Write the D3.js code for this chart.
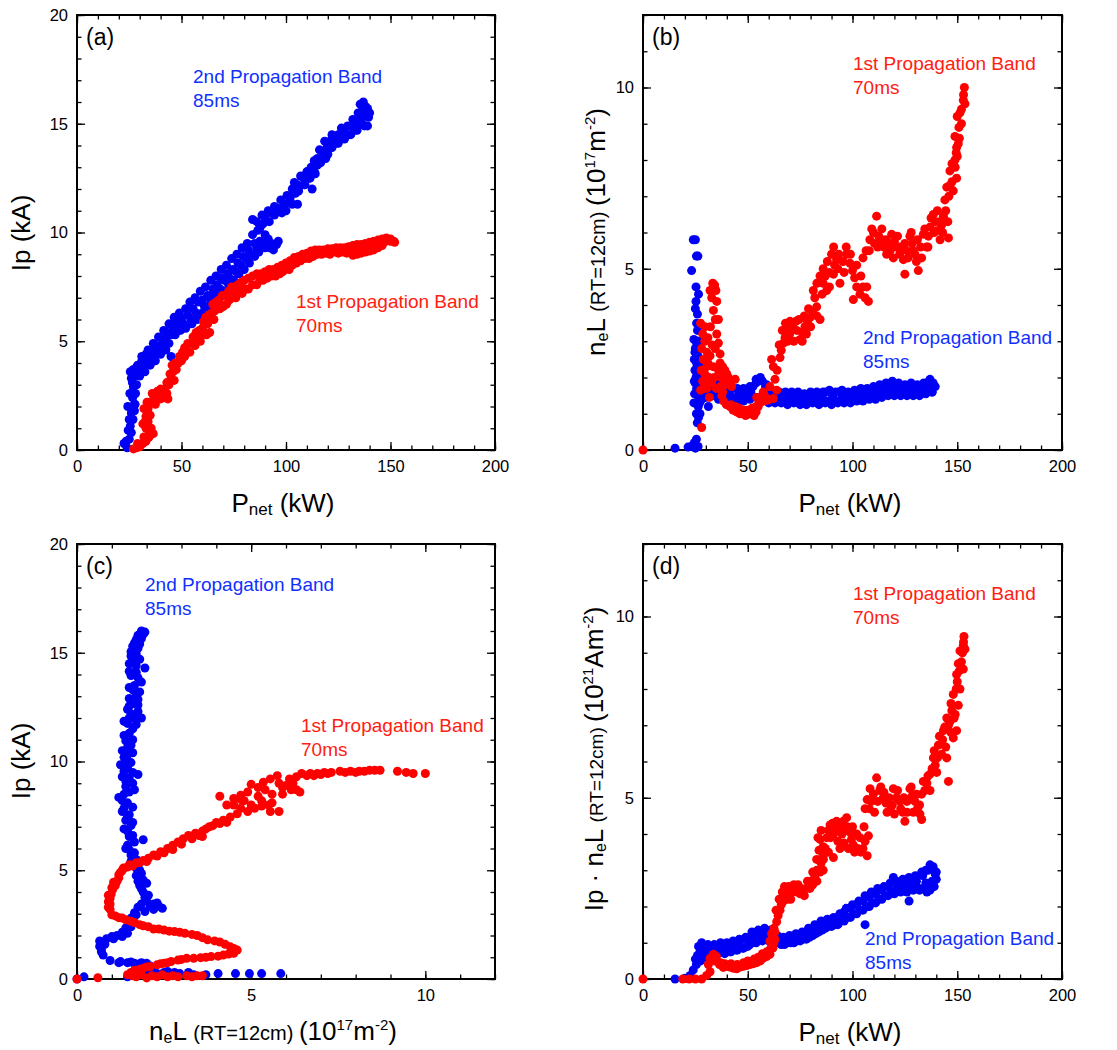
<!DOCTYPE html>
<html>
<head>
<meta charset="utf-8">
<script src="https://cdn.jsdelivr.net/npm/d3@7"></script>
<style>
  body { margin: 0; background: #fff; }
  svg { font-family: "Liberation Sans", Arial, Helvetica, sans-serif; }
  .tick text { font-size: 16.5px; fill: #000; }
  .tick line { stroke: #000; stroke-width: 1.3; }
</style>
</head>
<body>
<svg id="chart" width="1117" height="1050"></svg>
<script>
// ---- data: [x, y] ----
// (a) Ip (kA) vs Pnet (kW)
const aBlue = [[24,0.1],[22.5,0.3],[25,0.5],[26,0.8],[25.5,1.1],[26.8,1.4],[26,1.7],[27.5,1.8],[24.3,2.0],[27.8,2.1],[26.6,2.4],[28,2.6],[27,2.9],[28.5,3.0],[26,3.3],[27.5,3.4],[29,3.5],[30.5,3.7],[28.5,3.8],[32,3.9],[31,4.1],[34,4.1],[33,4.4],[36,4.3],[35.5,4.6],[38,4.5],[38,4.8],[40,4.8],[41,5.1],[42.5,5.0],[43,5.4],[45,5.3],[45,4.3],[46,5.6],[47,5.95],[48.5,5.7],[50,6.05],[51,5.8],[53,6.2],[54.5,6.0],[55.5,6.5],[57,6.3],[58,6.8],[58.5,6.2],[60,6.9],[61,6.6],[62.5,7.1],[64,6.9],[65,7.4],[66,7.2],[67,7.6],[68.5,7.4],[69,7.9],[70.5,7.8],[72,8.1],[73,7.9],[74.5,8.3],[76,8.2],[77,8.6],[78.5,8.5],[79.5,8.9],[81,8.8],[82,9.2],[83.5,9.0],[85,9.5],[86,9.3],[87.5,9.6],[89,9.5],[90,9.9],[91.5,9.7],[93,9.5],[96.3,9.6],[84,10.6],[86,10.5],[87.5,10.2],[88.5,10.8],[90,10.7],[91.5,11.0],[93,10.9],[94.5,11.2],[96,11.1],[97.5,11.5],[99,11.3],[100.5,11.7],[102,11.6],[105.5,11.3],[103,12.0],[104,12.3],[105.5,12.2],[107,12.6],[108.5,12.5],[110,12.8],[112.5,12.0],[112,13.0],[113.5,13.3],[115,13.1],[116,13.8],[117.5,13.7],[118.5,14.2],[120,13.6],[120.5,14.1],[122,14.5],[123.5,14.3],[125,14.5],[126.5,14.8],[128,14.6],[129.5,14.9],[131,14.9],[132,15.2],[133.5,15.0],[134.5,15.5],[135.5,15.9],[136,15.3],[137.5,14.9],[137,16.0],[138,15.8],[138.5,15.5],[139,15.7],[139.5,15.3],[140,15.5],[139,14.9],
  [29,3.9],[31,4.3],[34,4.6],[36.5,4.9],[39,5.2],[41.5,5.5],[44,5.8],[46.5,6.1],[49,6.3],[52,6.5],[54,6.8],[56.5,7.0],[59,7.3],[61.5,7.5],[64,7.8],[66.5,8.0],[69,8.3],[71.5,8.5],[74,8.8],[76.5,9.0],[79,9.3],[81.5,9.5],[84,9.9],[86.5,10.1],[89,10.4],[92,10.5],[94.5,10.8],[97,11.0],[99.5,11.3],[102,11.4],[104.5,11.8],[106,12.0],[109,12.2],[111,12.5],[113.5,12.8],[115,13.4],[117,13.3],[119.5,13.9],[121,14.2],[124,14.1],[127.5,14.4],[130,14.5],[133,14.7],[135,15.1],[136.5,15.6],
  [30,3.4],[32.5,3.6],[35,3.9],[37.5,4.1],[40,4.4],[42.5,4.6],[44,4.9],[47,5.3],[49.5,5.5],[52,5.6],[55,5.8],[57.5,6.0],[60,6.3],[62.5,6.6],[65,6.8],[67.5,7.1],[70,7.3],[72.5,7.6],[75,7.8],[77.5,8.1],[80,8.3],[82.5,8.6],[85,8.9],[87,9.1],[90,9.3],[92,9.3],[94,9.2],[95.5,9.45],[98,10.9],[100,11.0],[103,11.3],[106,11.9],[109,12.2],[111.5,12.5],[114,12.7],[116.5,13.2],[119,13.4],[122,13.9],[125,14.1],[128,14.3],[131,14.5],[134,14.7],[136.5,15.0],
  [23.5,0.4],[24.5,0.9],[25,1.4],[26.5,2.0],[25.3,2.6],[26.5,3.1],[25.5,3.6],[27,3.7]];
const aRed = [[27,0.05],[28.5,0.1],[30,0.15],[31.5,0.3],[33,0.4],[34.5,0.6],[36.5,0.75],[35.5,1.0],[33,1.0],[31.5,1.2],[34,1.3],[33,1.55],[35,1.6],[32,1.9],[34,1.9],[35,2.2],[36.5,2.3],[38,2.4],[40,2.35],[42,2.4],[43.5,2.35],[38.5,2.7],[40,2.8],[42,2.8],[44,3.0],[45,3.3],[46.5,3.2],[46,3.6],[47.5,3.7],[48.5,4.0],[50,4.1],[51.5,4.3],[52.5,4.6],[54,4.5],[55,4.9],[56.5,4.8],[57.5,5.1],[59,5.0],[60.5,5.3],[62,5.3],[63.5,5.4],[60.5,5.9],[62.5,5.8],[64,6.0],[65.5,6.0],[66,6.4],[67,6.6],[68.5,6.5],[70,6.6],[71.5,6.7],[73,6.9],[74.5,7.2],[76,7.0],[77.5,7.3],[79,7.2],[80.5,7.4],[82,7.4],[84,7.6],[86,7.6],[87.5,7.8],[89,7.8],[91,7.9],[93,8.0],[95,8.0],[97,8.1],[98.5,8.2],[100,8.4],[101.5,8.3],[103,8.5],[105,8.6],[107,8.7],[109,8.8],[111,8.8],[113,8.9],[115,9.0],[117,9.0],[119,9.05],[121,9.0],[123,9.1],[125,9.05],[127,9.1],[129,9.05],[131,9.15],[133,9.2],[135,9.2],[137,9.25],[139,9.3],[141,9.35],[143,9.4],[145,9.5],[147,9.55],[148.5,9.65],[150,9.6],[151.5,9.6],[152,9.55],
  [29,0.3],[32,0.6],[34.5,0.9],[32.5,1.3],[34,1.6],[33.5,2.2],[36,2.6],[37.5,2.1],[39,2.5],[41,2.6],[43,2.6],[43,3.1],[44.5,3.5],[45.5,3.9],[47,4.0],[49,4.3],[50.5,4.5],[51.5,4.7],[53,4.9],[55.5,5.2],[57,5.4],[58.5,5.5],[60,5.6],[61.5,6.1],[63,6.2],[64.5,6.3],[65,6.7],[66.5,6.8],[68,6.9],[69.5,7.1],[71,7.1],[72.5,7.3],[74,7.5],[75.5,7.5],[77,7.6],[78.5,7.7],[80,7.8],[82,7.9],[84,8.0],[86,8.1],[88,8.1],[90,8.2],[92,8.3],[94,8.3],[96,8.4],[98,8.5],[100,8.6],[102,8.7],[104,8.85],[106,8.9],[108,9.0],[110,9.05],[112,9.15],[114,9.2],[116,9.2],[118,9.2],[120,9.25],[122,9.25],[124,9.3],[126,9.3],[128,9.3],[130,9.35],[132,9.4],[134,9.45],[136,9.45],[138,9.5],[140,9.55],[142,9.6],[144,9.65],[146,9.7],[148,9.75],[150,9.7],[146,9.4],[144,9.3],[142,9.2],[140,9.15],[138,9.1],[136,9.05],[134,9.0],[132,8.95]];

// (b) neL (1e17 m^-2) vs Pnet (kW)
const bBlue = [[15.3,0.05],[21.5,0.08],[23,0.1],[24.5,0.2],[25.5,0.3],[26.3,0.1],[25,0.05],[24,5.8],[25,5.8],[25.5,5.35],[26.2,5.35],[23.2,4.95],[25.3,4.5],[25.3,4.1],[26,3.75],[25.6,3.5],[26,3.3],[24.3,3.05],[25.6,2.95],[24.8,2.7],[26.2,2.6],[25.6,2.4],[24.8,2.2],[26.3,2.15],[25.3,2.0],[24.9,1.85],[26.5,1.8],[25.6,1.7],[24.6,1.55],[26.2,1.5],[24.3,1.3],[26.4,1.2],[27.2,1.0],[25.9,0.75],[26.5,0.9],[28,1.4],[27.5,1.7],[28,2.0],[29.5,1.85],[31.2,1.2],[30.5,1.6],[32,1.7],[33.5,1.9],[34,1.6],[35.5,1.85],[36.5,1.55],[38,1.8],[39,1.55],[40.5,1.8],[41.5,1.5],[43,1.7],[44,1.45],[45.5,1.65],[47,1.45],[48.5,1.6],[50,1.45],[51.5,1.6],[52.5,1.75],[54,1.85],[55.5,1.95],[57,1.9],[58.5,1.75],[57,1.5],[59,1.45],[60.5,1.55],[62,1.4],[63.5,1.6],[65,1.45],[66.5,1.55],[68,1.35],[69.5,1.5],[71,1.4],[72.5,1.55],[74,1.35],[75.5,1.5],[77,1.3],[78.5,1.45],[80,1.4],[81.5,1.55],[83,1.35],[84.5,1.5],[86,1.4],[87.5,1.6],[89,1.35],[90.5,1.5],[92,1.35],[93.5,1.6],[95,1.45],[96.5,1.55],[98,1.4],[99.5,1.55],[101,1.45],[102.5,1.6],[104,1.5],[105.5,1.65],[107,1.45],[108.5,1.6],[110,1.5],[111.5,1.7],[113,1.55],[114.5,1.75],[116,1.6],[117.5,1.8],[119,1.65],[120.5,1.8],[122,1.6],[123.5,1.75],[125,1.55],[126.5,1.7],[128,1.6],[129.5,1.75],[131,1.6],[132.5,1.7],[134,1.6],[135.5,1.8],[136.5,1.9],[137.5,1.7],[138.5,1.85],[139.5,1.75],[138,1.6],
  [30,1.9],[33,1.95],[36,1.85],[39,1.75],[42,1.7],[45,1.7],[48,1.7],[51,1.75],[54,1.95],[56,2.0],[59,1.8],[62,1.6],[65,1.6],[68,1.6],[71,1.6],[74,1.6],[77,1.55],[80,1.6],[83,1.6],[86,1.6],[89,1.65],[92,1.6],[95,1.65],[98,1.6],[101,1.65],[104,1.7],[107,1.7],[110,1.75],[113,1.8],[116,1.85],[119,1.9],[122,1.85],[125,1.8],[128,1.85],[131,1.8],[134,1.85],[137,1.95],
  [30,1.45],[33,1.5],[36,1.4],[39,1.4],[42,1.35],[45,1.35],[48,1.35],[51,1.4],[54,1.45],[57,1.35],[60,1.3],[63,1.3],[66,1.3],[69,1.25],[72,1.3],[75,1.25],[78,1.25],[81,1.3],[84,1.25],[87,1.3],[90,1.25],[93,1.3],[96,1.3],[99,1.3],[102,1.35],[105,1.35],[108,1.4],[111,1.4],[114,1.45],[117,1.5],[120,1.5],[123,1.5],[126,1.5],[129,1.5],[132,1.5],[135,1.55],[138,1.6],
  [25,2.8],[24.5,2.5],[25.8,2.3],[24.5,1.9],[25.5,1.0],[26.8,1.6],[27.5,2.3],[26.5,3.0],[25,3.9],[26.5,4.3],[27,1.3]];
const bRed = [[0,0],[28,0.62],[27.5,1.65],[28.5,1.9],[27.8,2.2],[28.8,2.5],[28,2.8],[29.5,3.0],[27.5,3.5],[28.5,3.2],[30.4,2.3],[29.5,2.1],[31.7,1.45],[30.5,1.7],[32.8,1.85],[31.5,2.0],[32,2.6],[33,2.9],[32.2,3.4],[33.6,3.85],[32.8,4.2],[32,4.4],[33.3,4.6],[34.2,4.55],[34.8,4.4],[35.2,4.1],[34.5,3.6],[36,3.6],[35.2,3.2],[36,2.95],[34.5,2.8],[36.8,2.65],[36.8,2.4],[38,2.3],[39.1,2.2],[40,2.1],[40.7,2.0],[41.5,1.85],[42.3,1.75],[44,1.95],[36.8,1.75],[37.6,1.5],[38.5,1.35],[39.8,1.25],[41.5,1.2],[43,1.1],[44.7,1.05],[46.3,1.0],[47.9,1.0],[49.5,0.98],[51,1.0],[52.5,1.0],[54,1.05],[55,1.2],[55.8,1.3],[57.4,1.35],[59,1.37],[60.5,1.4],[62.2,1.42],[63.8,1.65],[63,1.95],[62.2,2.3],[61.4,2.5],[60.6,1.75],[57.4,1.6],[54.3,1.45],[65.4,2.55],[66,2.75],[67,2.95],[67.8,3.1],[68.6,3.3],[70.2,3.55],[71.5,3.4],[73.4,3.3],[75,3.05],[76,3.25],[77.3,3.4],[78.5,3.55],[79.7,3.65],[81,3.8],[82.9,3.95],[84.5,3.6],[81.3,4.4],[83,4.6],[84.5,4.8],[86,4.6],[87.7,4.4],[89,4.9],[90,5.4],[91,5.6],[92.4,5.25],[90.9,4.85],[93,5.0],[94,4.6],[95.5,5.2],[97.2,5.4],[98.8,5.15],[100,4.95],[101,4.75],[100.4,4.15],[102,4.5],[103.6,4.3],[105,4.5],[106.8,4.5],[107.6,4.1],[105,5.3],[106.5,5.5],[108.3,5.8],[109.2,6.1],[110.5,5.7],[111.5,6.45],[112.5,5.9],[113.9,5.8],[115,5.6],[116.3,5.4],[117.5,5.7],[118.7,5.95],[120,5.75],[121,5.6],[122.5,5.4],[124.3,5.25],[125,4.85],[126,5.5],[127.4,5.9],[128.5,5.7],[129.8,5.4],[130.5,5.2],[131.4,4.95],[132.5,5.6],[133.8,5.95],[135.4,5.6],[136.2,5.9],[137,6.15],[138.6,6.5],[139.5,6.3],[140.2,6.05],[141.8,5.8],[142.5,6.2],[143.4,6.45],[144.1,6.9],[145.8,5.85],[145,7.25],[146,7.0],[146.5,7.7],[147.5,7.4],[148.1,7.15],[149.7,7.5],[148.9,8.0],[149.5,8.2],[150.5,8.45],[148.9,8.65],[149.7,8.35],[150.8,8.9],[151.3,9.3],[152,9.0],[152.9,9.65],[153.7,9.55],[153.4,10.0],
  [42,1.25],[44,1.2],[46,1.15],[48,1.1],[50,1.1],[52,1.15],[54,1.2],[56,1.45],[58,1.5],[45,1.05],[49,0.95],[53,0.95],
  [64,2.2],[65,2.9],[66.5,3.3],[68,3.5],[69,3.0],[70,3.2],[72,3.0],[73,3.55],[74.5,3.6],[76,3.0],[77,3.7],[78,3.2],[79,3.9],[80,3.4],[82,4.2],[83,3.7],[85.5,4.3],[86,5.0],[87,4.8],[88,5.2],[89,4.5],[91.5,5.1],[93.5,5.4],[96,4.9],[97,5.6],[99,5.4],[102,5.1],[104,4.8],[106,4.2],
  [108,5.5],[110,6.0],[112,5.6],[114,6.1],[116,5.8],[118,5.5],[119.5,5.3],[121.5,5.9],[123,5.6],[125,5.7],[126.5,5.3],[128,6.0],[129,5.5],[131,5.8],[133,5.3],[134.5,6.1],[136,5.6],[137.5,6.4],[139,6.0],[140.5,6.6],[141.5,6.3],[143,6.0],[144.5,6.6],[145.5,6.3],[146.5,7.3],[147.5,7.9],[149,7.8],[150,8.1],[151,8.6],[150,9.2],[152,9.4],[153,9.8],
  [29,1.7],[30,1.9],[29,2.5],[30.5,2.7],[31,3.1],[29.5,3.4],[31,2.4],[33.5,2.3],[34,2.0],[35,1.7],[36,2.2],[37.5,2.0],[39,1.8],[38,1.6]];

// (c) Ip (kA) vs neL (1e17 m^-2)
const cBlue = [[0,0],[0.2,0.1],[1.45,0.1],[1.7,0.15],[2.0,0.2],[2.3,0.25],[2.6,0.35],[2.95,0.25],[3.35,0.2],[3.7,0.2],[4.05,0.25],[4.55,0.25],[4.95,0.25],[5.3,0.25],[5.85,0.25],[1.7,0.35],[2.0,0.5],[2.2,0.4],[0.95,0.85],[1.25,0.8],[1.45,0.75],[1.65,0.72],[1.85,0.75],[2.0,0.72],[0.7,1.25],[0.65,1.5],[0.65,1.75],[0.85,1.85],[1.0,1.95],[1.15,2.0],[1.3,2.15],[1.4,2.35],[1.5,2.6],[1.55,2.8],[1.65,3.05],[1.75,3.3],[1.95,3.1],[2.2,3.2],[2.45,3.25],[2.3,3.5],[2.0,3.6],[2.05,3.85],[1.9,4.0],[1.8,4.3],[1.9,4.55],[1.7,4.75],[1.8,5.0],[1.6,5.25],[1.7,5.5],[1.55,5.7],[1.5,5.95],[1.45,6.15],[1.65,6.3],[1.9,6.4],[1.5,6.55],[1.45,6.8],[1.55,7.05],[1.4,7.3],[1.5,7.55],[1.35,7.85],[1.45,8.1],[1.2,8.35],[1.5,8.6],[1.65,8.7],[1.4,8.85],[1.4,9.1],[1.3,9.3],[1.35,9.55],[1.6,9.5],[1.75,9.4],[1.25,9.85],[1.4,10.05],[1.45,10.3],[1.3,10.5],[1.55,10.75],[1.4,10.95],[1.35,11.2],[1.6,11.5],[1.45,11.75],[1.5,12.0],[1.65,12.0],[1.85,12.0],[1.45,12.4],[1.6,12.65],[1.75,12.85],[1.7,13.05],[1.6,13.3],[1.65,13.5],[1.85,13.65],[1.55,13.95],[1.5,14.15],[1.95,14.3],[1.7,14.4],[1.65,14.6],[1.55,14.85],[1.55,15.05],[1.75,15.2],[1.65,15.45],[1.85,15.65],[1.75,15.8],[1.95,15.95],
  [1.7,5.1],[1.55,5.4],[1.65,5.8],[1.4,6.0],[1.6,6.6],[1.35,6.9],[1.6,7.2],[1.45,7.45],[1.3,7.7],[1.6,7.9],[1.3,8.2],[1.35,8.5],[1.6,9.0],[1.5,9.25],[1.45,9.7],[1.55,9.95],[1.35,10.2],[1.6,10.4],[1.45,10.65],[1.6,11.0],[1.5,11.3],[1.7,11.7],[1.35,11.85],[1.55,12.2],[1.75,12.3],[1.5,12.55],[1.75,12.6],[1.5,12.9],[1.8,13.2],[1.5,13.4],[1.75,13.85],[1.7,14.1],[1.5,14.5],[1.8,14.7],[1.7,14.95],[1.6,15.3],[1.8,15.4],[1.7,15.6],[1.9,15.85],[1.85,16.0],
  [2.1,3.35],[2.35,3.35],[1.85,3.45],[2.2,3.45],[1.95,3.75],[1.85,4.15],[2.0,4.4],[1.75,4.5],[1.85,4.85],[1.75,5.2],
  [0.75,1.1],[0.7,1.35],[0.8,1.6],[1.05,1.85],[1.3,1.95],[1.45,2.1],[1.55,2.4],[1.6,2.7],[1.7,2.95],
  [1.2,0.75],[1.55,0.78],[1.8,0.7],[2.1,0.6],[2.5,0.3],[2.8,0.3],[3.2,0.3]];
const cRed = [[0,0],[0.6,0.06],[1.45,0.2],[1.7,0.1],[2.0,0.05],[2.3,0.1],[2.6,0.1],[2.9,0.1],[3.15,0.15],[3.45,0.15],[1.55,0.3],[1.65,0.4],[1.9,0.5],[2.1,0.57],[2.3,0.65],[2.5,0.72],[2.7,0.8],[2.9,0.87],[3.15,0.95],[3.55,0.98],[3.85,1.03],[4.2,1.1],[4.5,1.18],[4.6,1.33],[4.4,1.48],[4.1,1.7],[3.75,1.8],[3.45,2.0],[3.1,2.1],[2.8,2.18],[2.5,2.25],[2.2,2.3],[1.9,2.45],[1.65,2.6],[1.4,2.72],[1.2,2.82],[1.0,2.95],[0.95,3.2],[0.95,3.45],[0.95,3.7],[0.98,3.9],[1.02,4.1],[1.1,4.3],[1.15,4.5],[1.2,4.65],[1.25,4.9],[1.33,5.1],[1.5,5.25],[1.7,5.35],[1.9,5.45],[2.05,5.55],[2.2,5.7],[2.4,5.85],[2.6,6.0],[2.75,6.15],[2.9,6.3],[3.05,6.45],[3.2,6.6],[3.4,6.7],[3.6,6.55],[3.6,6.8],[3.8,7.0],[4.0,7.2],[4.2,7.3],[4.4,7.45],[4.6,7.6],[4.7,7.85],[4.9,7.7],[5.1,7.85],[5.3,7.95],[5.5,8.0],[5.55,7.7],[4.1,8.4],[4.5,8.3],[4.5,8.0],[4.7,8.25],[4.9,8.6],[5.0,8.95],[5.2,8.8],[5.35,9.05],[5.55,9.2],[5.75,9.35],[5.9,8.8],[6.15,8.7],[6.4,8.6],[6.1,9.2],[6.3,9.3],[6.45,9.45],[6.7,9.45],[6.9,9.45],[7.1,9.5],[7.3,9.5],[7.55,9.55],[7.85,9.55],[8.1,9.55],[8.4,9.6],[8.7,9.6],[9.2,9.55],[9.45,9.5],[9.65,9.45],[10.0,9.45],[4.8,8.2],[5.2,8.4],[5.6,8.5],[6.0,8.9],[5.4,8.7],[5.8,9.0],[6.2,9.0],[5.0,8.0],[5.8,7.7],[4.3,8.0],
  [0.9,3.3],[0.9,3.55],[0.9,3.85],[1.0,4.2],[1.05,4.45],[1.2,4.8],[1.3,5.0],[1.45,5.15],[1.6,5.2],[1.8,5.35],[2.0,5.4],[2.3,5.65],[2.5,5.8],[2.75,5.95],[3.0,6.2],[3.3,6.45],[3.5,6.6],[3.7,6.9],[3.9,7.05],[4.1,7.15],[4.3,7.2],
  [1.1,2.9],[1.3,2.8],[1.55,2.65],[1.8,2.5],[2.05,2.4],[2.35,2.3],[2.65,2.2],[2.95,2.15],[3.3,2.05],[3.6,1.9],[3.95,1.75],[4.25,1.6],[4.5,1.4],
  [1.8,0.45],[2.0,0.55],[2.4,0.7],[2.6,0.75],[3.0,0.9],[3.35,0.95],[3.7,1.0],[4.05,1.05],[4.35,1.15],
  [1.6,0.15],[1.85,0.2],[2.15,0.15],[2.45,0.2],[2.75,0.15],[3.3,0.1],[3.6,0.15],
  [6.6,9.35],[6.8,9.35],[7.0,9.4],[7.2,9.45],[7.7,9.5],[8.0,9.5],[8.25,9.55],[8.55,9.6],[5.6,8.1],[5.9,8.5],[6.3,8.7],[4.7,8.45],[5.3,8.2]];

// (d) Ip*neL (1e21 A m^-2) vs Pnet (kW)
const dBlue = [[15.3,0],[20,0.02],[22.5,0.1],[24,0.25],[25.5,0.4],[26.4,0.55],[27.2,0.75],[26.5,0.9],[28,0.95],[29,0.7],[30.5,0.85],[31,0.6],[32.5,0.75],[34,0.85],[35.5,0.7],[37,0.9],[38.5,0.75],[40,0.9],[41.5,0.75],[43,0.95],[44.5,0.8],[46,1.0],[47.5,0.85],[48.5,1.1],[50,0.9],[51,1.05],[52.5,1.2],[54,1.05],[55.5,1.25],[57,1.15],[58.5,1.3],[60,1.15],[61.5,1.25],[63,1.1],[64.5,1.0],[66,1.1],[67.5,0.95],[69,1.1],[70.5,1.0],[72,1.15],[73.5,1.05],[75,1.2],[76.5,1.1],[78,1.3],[79.5,1.15],[81,1.35],[82.5,1.25],[84,1.5],[85.5,1.35],[87,1.55],[88.5,1.45],[90,1.6],[91.5,1.5],[93,1.7],[94.5,1.6],[96,1.85],[97.5,1.7],[99,1.95],[100.5,1.8],[102,2.05],[103.5,1.9],[105,2.15],[106,1.5],[106.5,2.0],[108,2.25],[109.5,2.1],[111,2.35],[112.5,2.2],[114,2.45],[115.5,2.3],[117,2.55],[118.5,2.4],[119.5,2.8],[121,2.5],[122.5,2.65],[124,2.45],[125.5,2.6],[127,2.15],[127.5,2.75],[129,2.55],[130.5,2.7],[132,2.5],[133.5,2.85],[135,2.65],[136,3.0],[137,3.15],[138.5,3.1],[139.5,2.9],[140,2.75],[138.5,2.6],[137,2.45],[135.5,2.4],
  [28,1.0],[31,0.95],[34,0.95],[37,1.0],[40,1.0],[43,1.05],[46,1.1],[49,1.15],[52,1.3],[55,1.35],[58,1.4],[61,1.35],[64,1.2],[67,1.15],[70,1.2],[73,1.25],[76,1.3],[79,1.4],[82,1.5],[85,1.6],[88,1.65],[91,1.7],[94,1.8],[97,1.95],[100,2.05],[103,2.15],[106,2.3],[109,2.4],[112,2.5],[115,2.55],[118,2.65],[121,2.7],[124,2.75],[127,2.8],[130,2.85],[133,2.95],[135,3.0],
  [30,0.7],[33,0.65],[36,0.7],[39,0.7],[42,0.75],[45,0.8],[48,0.85],[51,0.95],[54,1.0],[57,1.05],[60,1.05],[63,1.0],[66,0.95],[69,1.0],[72,1.0],[75,1.05],[78,1.1],[81,1.2],[84,1.3],[87,1.4],[90,1.45],[93,1.5],[96,1.6],[99,1.7],[102,1.8],[105,1.9],[108,2.0],[111,2.1],[114,2.2],[117,2.3],[120,2.35],[123,2.4],[126,2.4],[129,2.45],[132,2.45],[135,2.55],[138,2.7],[140,2.95],[139,2.55],
  [26,0.65],[27.5,0.5],[28.5,0.85],[25,0.55]];
const dRed = [[0,0],[19,0],[22,0],[25,0],[28,0],[30.4,0.1],[32,0.2],[31.2,0.4],[32,0.57],[33.6,0.68],[35,0.62],[35.2,0.5],[36.5,0.4],[38.3,0.32],[40,0.35],[41.5,0.33],[43,0.3],[44.7,0.28],[46.3,0.33],[47.9,0.35],[49.5,0.37],[51,0.4],[52.5,0.42],[54.3,0.45],[56,0.5],[57.4,0.58],[59,0.62],[60.6,0.68],[62,0.85],[61,1.0],[60.6,1.05],[61.4,1.25],[62.5,1.4],[63.8,1.58],[64.5,1.75],[65.4,1.9],[66,2.05],[67,2.15],[68,2.3],[68.6,2.4],[69.5,2.55],[70.2,2.45],[71.5,2.4],[73.4,2.4],[75,2.35],[76.6,2.45],[78,2.5],[79.7,2.5],[81,2.6],[82,2.8],[83,2.7],[84.5,2.95],[86.1,3.3],[82.9,3.3],[84,3.55],[84.5,3.85],[86,3.65],[87.7,3.9],[88.5,4.1],[89.3,4.25],[90.9,3.35],[91,4.0],[92.4,4.35],[94,3.6],[94,4.2],[95.6,4.35],[96.5,4.1],[97.2,4.45],[98.8,4.05],[99.5,3.85],[100.4,3.7],[102,4.0],[103.6,3.9],[105,3.6],[107,3.4],[107.6,3.95],[106,4.7],[107,4.95],[108.4,5.25],[110,5.1],[111.5,5.55],[113,5.2],[114.7,5.0],[116,4.85],[118,4.65],[119.5,5.25],[121,5.0],[122.7,4.9],[124,4.6],[125,4.35],[126,4.9],[127.4,5.25],[128.5,5.05],[129.8,4.9],[131,4.7],[132.2,4.55],[133,5.1],[133.8,5.45],[135.5,5.4],[137,5.65],[138.6,6.1],[139.5,5.9],[140.2,5.7],[141,6.45],[142.5,6.2],[143.4,6.85],[144.5,6.4],[145,6.1],[145.8,5.45],[145.8,7.0],[147,6.8],[148.1,6.65],[149.7,6.85],[147.4,7.4],[148.1,7.85],[149,7.3],[150.5,7.55],[151.3,8.0],[149.7,8.4],[150.5,8.7],[151.3,9.05],[152.9,9.2],[153.7,9.1],[152.9,8.55],[153.2,9.45],
  [33,0.55],[34,0.5],[37,0.45],[39,0.42],[42,0.42],[45,0.4],[48,0.45],[50,0.5],[53,0.55],[55,0.6],[57,0.7],[59,0.75],[61,0.85],[62.5,1.0],[62,1.2],[63,1.3],[63,1.1],
  [63.5,1.9],[65,2.2],[66.5,2.4],[67.5,2.55],[69,2.2],[70.5,2.2],[72,2.6],[74,2.6],[75.5,2.5],[77,2.3],[78.5,2.7],[80,2.7],[81,2.95],[83,3.0],[85,3.2],[86,3.0],[83.5,3.9],[85,4.1],[86,3.4],[87,3.6],[88.5,3.5],[89.5,3.9],[90.5,4.3],[92,4.1],[93,3.8],[95,4.0],[96,3.75],[97.5,4.2],[98,3.6],[100,4.2],[101,3.5],[102.5,3.6],[104,3.5],[106,3.8],[105.5,4.2],
  [108,4.7],[109,4.9],[110.5,4.6],[112,4.9],[113.5,5.3],[115,5.15],[116.5,4.6],[117.5,5.0],[119,4.8],[120,4.55],[121.5,5.2],[123,4.7],[124.5,5.0],[126,4.6],[127,4.95],[128,5.3],[129,4.6],[130.5,5.1],[132,4.8],[133,4.4],[134.5,5.2],[136,5.6],[137,5.2],[138,5.8],[139,6.3],[140.5,6.1],[141.5,6.7],[143,6.6],[144,6.95],[145,7.2],[146.5,7.1],[147,7.6],[148.5,7.2],[149.5,8.0],[150,8.2],[151,8.5],[152,8.75],[152.5,9.0],[153,9.3]];

// ---- ticks ----
const pnetMajor = [0, 50, 100, 150, 200];
const pnetMinor = d3.range(0, 201, 10);
const ipMajor = [0, 5, 10, 15, 20];
const ipMinor = d3.range(0, 21, 1);
const nelMajor = [0, 5, 10];
const nelMinor = d3.range(0, 13, 1);

const panelLabels = ["(a)", "(b)", "(c)", "(d)"];
const band1 = ["1st Propagation Band", "70ms"];
const band2 = ["2nd Propagation Band", "85ms"];

const BLUE = "#0000f5";
const RED = "#ff0000";
const BLUE_TXT = "#1030ff";
const RED_TXT = "#ff2010";

const svg = d3.select("#chart");

// title pieces: [text, fontSize, baseline shift (+ down)]
const pnetTitle = [["P", 26, 0], ["net", 17, 3], [" (kW)", 26, 0]];
const ipTitle = [["Ip (kA)", 26, 0]];
const nelTitle = [["n", 26, 0], ["e", 16, 3], ["L ", 26, 0], ["(RT=12cm) ", 20, 0], ["(10", 26, 0], ["17", 15, -10], ["m", 26, 0], ["-2", 15, -10], [")", 26, 0]];
const ipnelTitle = [["Ip \u00b7 n", 26, 0], ["e", 16, 3], ["L ", 26, 0], ["(RT=12cm) ", 19, 0], ["(10", 26, 0], ["21", 15, -10], ["Am", 26, 0], ["-2", 15, -10], [")", 26, 0]];

const panels = [
  { x0: 77, x1: 495, y0: 15, y1: 450, xDom: [0, 200], yDom: [0, 20], xMaj: pnetMajor, xMin: pnetMinor, yMaj: ipMajor, yMin: ipMinor,
    blue: aBlue, red: aRed, xTitle: pnetTitle, xTitlePos: [283, 512], yTitle: ipTitle, yTitlePos: [30, 233],
    notes: [[band2, BLUE_TXT, 193, 83], [band1, RED_TXT, 296, 308]] },
  { x0: 643, x1: 1062, y0: 15, y1: 450, xDom: [0, 200], yDom: [0, 12], xMaj: pnetMajor, xMin: pnetMinor, yMaj: nelMajor, yMin: nelMinor,
    blue: bBlue, red: bRed, xTitle: pnetTitle, xTitlePos: [850, 512], yTitle: nelTitle, yTitlePos: [605, 232],
    notes: [[band1, RED_TXT, 853, 70], [band2, BLUE_TXT, 863, 344]] },
  { x0: 77, x1: 495, y0: 544, y1: 979, xDom: [0, 12], yDom: [0, 20], xMaj: nelMajor, xMin: nelMinor, yMaj: ipMajor, yMin: ipMinor,
    blue: cBlue, red: cRed, xTitle: nelTitle, xTitlePos: [273, 1040], yTitle: ipTitle, yTitlePos: [30, 761],
    notes: [[band2, BLUE_TXT, 145, 591], [band1, RED_TXT, 301, 732]] },
  { x0: 643, x1: 1062, y0: 544, y1: 979, xDom: [0, 200], yDom: [0, 12], xMaj: pnetMajor, xMin: pnetMinor, yMaj: nelMajor, yMin: nelMinor,
    blue: dBlue, red: dRed, xTitle: pnetTitle, xTitlePos: [850, 1041], yTitle: ipnelTitle, yTitlePos: [603, 759],
    notes: [[band1, RED_TXT, 853, 600], [band2, BLUE_TXT, 865, 945]] }
];

function richText(g, pieces) {
  const t = g.append("text").attr("text-anchor", "middle").attr("fill", "#000");
  let shift = 0;
  pieces.forEach(([str, size, sh]) => {
    t.append("tspan").attr("font-size", size).attr("dy", sh - shift).text(str);
    shift = sh;
  });
  return t;
}

function tickSet(g, axis, pos, values, len, labels) {
  const a = axis.tickValues(values).tickSizeInner(-len).tickSizeOuter(0);
  if (labels) a.tickPadding(10).tickFormat(d3.format("d"));
  else a.tickFormat("");
  const sel = g.append("g").attr("transform", pos).call(a);
  sel.select(".domain").remove();
  return sel;
}

panels.forEach((p, i) => {
  const x = d3.scaleLinear().domain(p.xDom).range([p.x0, p.x1]);
  const y = d3.scaleLinear().domain(p.yDom).range([p.y1, p.y0]);
  const g = svg.append("g");

  // inward ticks on all four sides
  tickSet(g, d3.axisBottom(x), `translate(0,${p.y1})`, p.xMin, 4.5, false);
  tickSet(g, d3.axisBottom(x), `translate(0,${p.y1})`, p.xMaj, 8, true);
  tickSet(g, d3.axisTop(x), `translate(0,${p.y0})`, p.xMin, 4.5, false);
  tickSet(g, d3.axisTop(x), `translate(0,${p.y0})`, p.xMaj, 8, false);
  tickSet(g, d3.axisLeft(y), `translate(${p.x0},0)`, p.yMin, 4.5, false);
  const yl = tickSet(g, d3.axisLeft(y), `translate(${p.x0},0)`, p.yMaj, 8, true);
  yl.selectAll("text").attr("x", -9);
  tickSet(g, d3.axisRight(y), `translate(${p.x1},0)`, p.yMin, 4.5, false);
  tickSet(g, d3.axisRight(y), `translate(${p.x1},0)`, p.yMaj, 8, false);

  g.append("rect")
    .attr("x", p.x0).attr("y", p.y0)
    .attr("width", p.x1 - p.x0).attr("height", p.y1 - p.y0)
    .attr("fill", "none").attr("stroke", "#000").attr("stroke-width", 2);

  // points: blue band first, red drawn over it
  [[p.blue, BLUE], [p.red, RED]].forEach(([pts, c]) => {
    g.append("g").selectAll("circle")
      .data(pts)
      .join("circle")
      .attr("cx", d => x(d[0]))
      .attr("cy", d => y(d[1]))
      .attr("r", 4.5)
      .attr("fill", c);
  });

  g.append("text")
    .attr("x", p.x0 + 9).attr("y", p.y0 + 30)
    .attr("font-size", 23)
    .text(panelLabels[i]);

  p.notes.forEach(([lines, color, nx, ny]) => {
    lines.forEach((s, k) => {
      g.append("text")
        .attr("x", nx).attr("y", ny + k * 24)
        .attr("font-size", 19)
        .attr("fill", color)
        .text(s);
    });
  });

  richText(g, p.xTitle).attr("x", p.xTitlePos[0]).attr("y", p.xTitlePos[1]);
  const yt = g.append("g").attr("transform", `translate(${p.yTitlePos[0]},${p.yTitlePos[1]}) rotate(-90)`);
  richText(yt, p.yTitle);
});
</script>
</body>
</html>
